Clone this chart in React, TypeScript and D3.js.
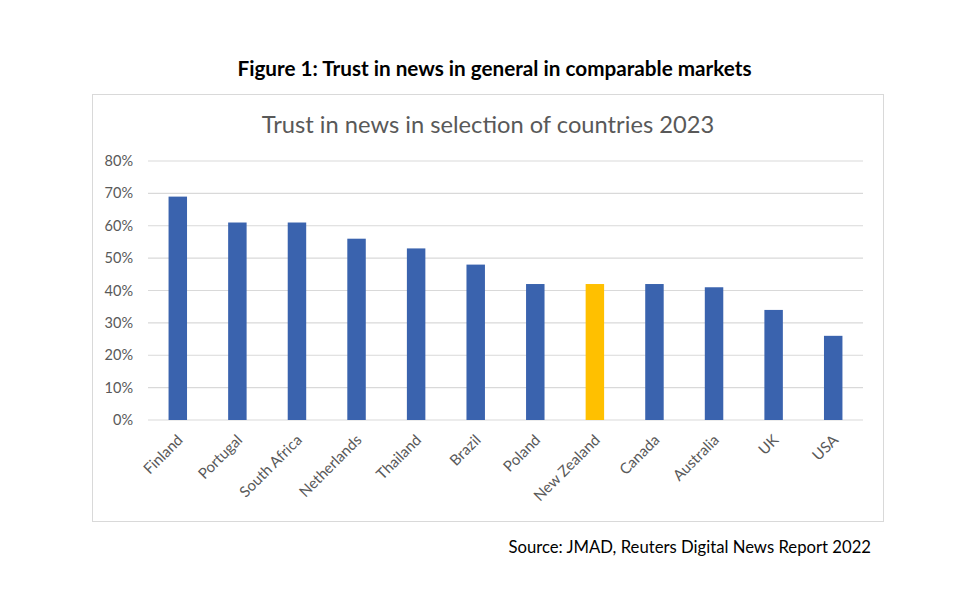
import React from "react";
import * as d3 from "d3";

const countries = ["Finland", "Portugal", "South Africa", "Netherlands", "Thailand", "Brazil", "Poland", "New Zealand", "Canada", "Australia", "UK", "USA"];
const trust = [69, 61, 61, 56, 53, 48, 42, 42, 42, 41, 34, 26];
const highlight = "New Zealand";
const yTicks = [0, 10, 20, 30, 40, 50, 60, 70, 80];

const figureTitle = "Figure 1: Trust in news in general in comparable markets";
const chartTitle = "Trust in news in selection of countries 2023";
const sourceText = "Source: JMAD, Reuters Digital News Report 2022";

export default function App() {
  const W = 960, H = 615;
  const left = 148, right = 863, top = 161, bottom = 420;
  const x = d3.scaleBand<string>().domain(countries).range([left, right]).paddingInner(0.69).paddingOuter(0.345);
  const y = d3.scaleLinear().domain([0, 80]).range([bottom, top]);
  const font = "Lato, 'Open Sans', sans-serif";
  return (
    <svg width={W} height={H} style={{ position: "absolute", left: 0, top: 0, background: "#fff" }} fontFamily={font}>
      <rect x={0} y={0} width={W} height={H} fill="#fff" />
      <text x={494.5} y={76} textAnchor="middle" fontSize={20.7} fontWeight={700} fill="#000">{figureTitle}</text>
      <rect x={92.5} y={94.5} width={791} height={427} fill="#fff" stroke="#d9d9d9" strokeWidth={1} />
      <text x={488} y={133} textAnchor="middle" fontSize={23.7} fill="#595959">{chartTitle}</text>
      {yTicks.map(t => (
        <g key={t}>
          <line x1={left} x2={right} y1={y(t)} y2={y(t)} stroke="#d9d9d9" strokeWidth={1.2} />
          <text x={133} y={y(t)} dy="0.35em" textAnchor="end" fontSize={14.5} fill="#595959">{t}%</text>
        </g>
      ))}
      {countries.map((c, i) => (
        <rect key={c} x={x(c)} y={y(trust[i])} width={x.bandwidth()} height={y(0) - y(trust[i])}
          fill={c === highlight ? "#FFC000" : "#3A63AE"} />
      ))}
      {countries.map(c => {
        const cx = (x(c) as number) + x.bandwidth() / 2 + 6;
        const cy = bottom + 21;
        return (
          <text key={c} x={cx} y={cy} textAnchor="end" fontSize={15} fill="#595959"
            transform={`rotate(-45 ${cx} ${cy})`}>{c}</text>
        );
      })}
      <text x={871} y={553} textAnchor="end" fontSize={16.7} fill="#000">{sourceText}</text>
    </svg>
  );
}
